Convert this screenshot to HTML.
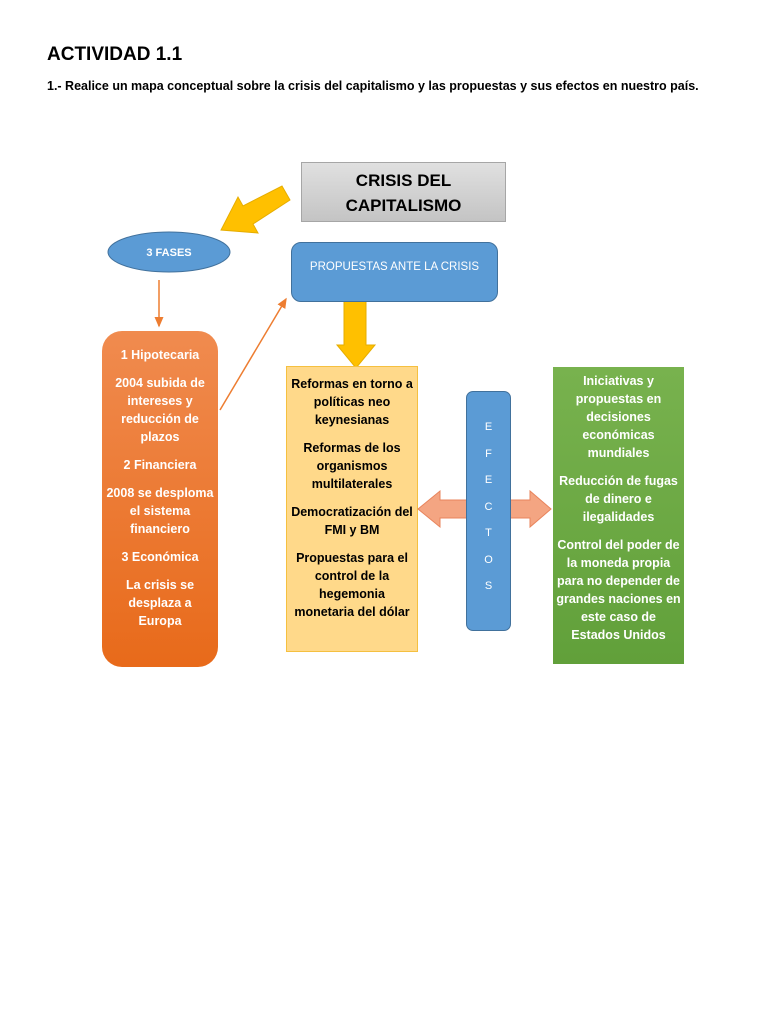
<!DOCTYPE html>
<html><head><meta charset="utf-8"><style>
body{margin:0;width:768px;height:1024px;background:#fff;position:relative;font-family:"Liberation Sans",sans-serif;overflow:hidden}
.a{position:absolute}
.t{font-weight:bold;text-align:center;font-size:12.5px;line-height:18px}
.t p{margin:0 0 10px 0}
</style></head><body>
<div class="a" style="left:47px;top:44px;font-size:19px;font-weight:bold">ACTIVIDAD 1.1</div>
<div class="a" style="left:47px;top:79px;font-size:12.5px;font-weight:bold">1.- Realice un mapa conceptual sobre la crisis del capitalismo y las propuestas y sus efectos en nuestro país.</div>

<div class="a" style="left:301px;top:162px;width:205px;height:60px;background:linear-gradient(#e0e0e0,#c4c4c4);border:1px solid #a6a6a6;box-sizing:border-box;text-align:center;font-weight:bold;font-size:17px;line-height:25px;padding-top:5px">CRISIS DEL<br>CAPITALISMO</div>

<svg class="a" style="left:0;top:0" width="768" height="1024">
<defs><marker id="m" markerWidth="8" markerHeight="8" refX="6" refY="4" orient="auto"><path d="M0,1 L7,4 L0,7 z" fill="#ed7d31"/></marker></defs>
<polygon points="290,200 282,186 243,206 238,197 221,230 258,233 253,224" fill="#ffc000" stroke="#e6ad00" stroke-width="1"/>
<line x1="159" y1="280" x2="159" y2="326" stroke="#ed7d31" stroke-width="1.5" marker-end="url(#m)"/>
<line x1="220" y1="410" x2="286" y2="299" stroke="#ed7d31" stroke-width="1.5" marker-end="url(#m)"/>
<polygon points="344,300 366,300 366,345 375,345 356,368 337,345 344,345" fill="#ffc000" stroke="#e6ad00"/>
<ellipse cx="169" cy="252" rx="61" ry="20" fill="#5b9bd5" stroke="#41719c"/>
<text x="169" y="256" font-family="Liberation Sans" font-size="11" font-weight="bold" fill="#fff" text-anchor="middle">3 FASES</text>
</svg>

<div class="a" style="left:291px;top:242px;width:207px;height:60px;background:#5b9bd5;border:1px solid #41719c;border-radius:10px;box-sizing:border-box;color:#fff;font-size:11.5px;text-align:center;padding-top:18px">PROPUESTAS ANTE LA CRISIS</div>

<div class="a t" style="left:102px;top:331px;width:116px;height:336px;border-radius:20px;background:linear-gradient(#f08b4f,#e86a1a);color:#fff;box-sizing:border-box;padding:15px 4px 0">
<p>1 Hipotecaria</p><p>2004 subida de intereses y reducción de plazos</p><p>2 Financiera</p><p>2008 se desploma el sistema financiero</p><p>3 Económica</p><p>La crisis se desplaza a Europa</p></div>

<div class="a t" style="left:286px;top:366px;width:132px;height:286px;background:#ffd98a;border:1px solid #f5c040;box-sizing:border-box;padding:8px 3px 0">
<p>Reformas en torno a políticas neo keynesianas</p><p>Reformas de los organismos multilaterales</p><p>Democratización del FMI y BM</p><p>Propuestas para el control de la hegemonia monetaria del dólar</p></div>

<svg class="a" style="left:0;top:0" width="768" height="1024">
<polygon points="418,509 440,491 440,500 530,500 530,491 551,509 530,527 530,518 440,518 440,527" fill="#f4a582" stroke="#e8845c"/>
</svg>

<div class="a" style="left:466px;top:391px;width:45px;height:240px;background:#5b9bd5;border:1px solid #41719c;border-radius:7px;box-sizing:border-box;color:#fff;font-size:11px;text-align:center;line-height:26.5px;padding-top:22px">E<br>F<br>E<br>C<br>T<br>O<br>S</div>

<div class="a t" style="left:553px;top:367px;width:131px;height:297px;background:linear-gradient(#78b24e,#61a03a);color:#fff;box-sizing:border-box;padding:5px 3px 0">
<p>Iniciativas y propuestas en decisiones económicas mundiales</p><p>Reducción de fugas de dinero e ilegalidades</p><p>Control del poder de la moneda propia para no depender de grandes naciones en este caso de Estados Unidos</p></div>
</body></html>
